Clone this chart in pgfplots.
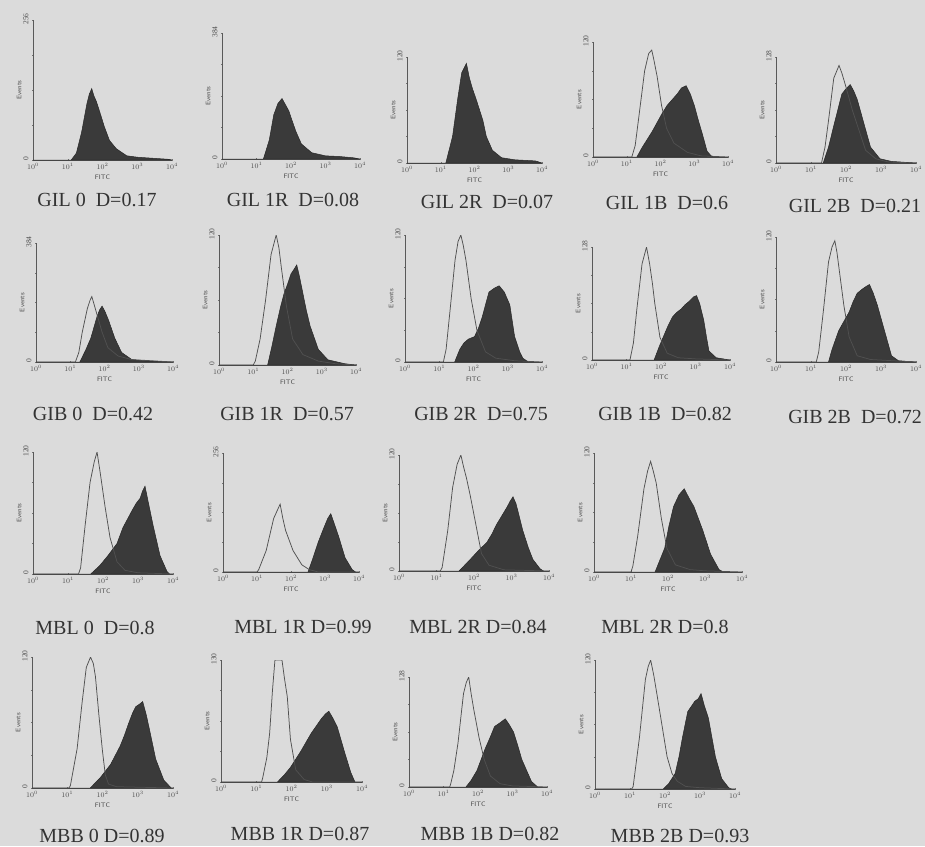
\documentclass[border=0pt]{standalone}
\usepackage{pgfplots}
\pgfplotsset{compat=1.18}
\usepackage{fontspec}
\setmainfont{Liberation Serif}
\definecolor{bgcol}{RGB}{219,219,219}
\definecolor{fillc}{RGB}{58,58,58}
\definecolor{edgec}{RGB}{40,40,40}
\definecolor{linec}{RGB}{80,80,80}
\pgfplotsset{
 fc/.style={
  scale only axis, anchor=south west,
  xmin=0, xmax=4, ymin=0, ymax=100,
  axis x line=bottom, axis y line=left,
  axis line style={-, line width=0.7pt, black!65},
  xtick={0,1,2,3,4}, xticklabels={$10^0$,$10^1$,$10^2$,$10^3$,$10^4$},
  ytick={0,100}, minor ytick={25,50,75},
  tick style={black!55, line width=0.4pt}, major tick length=2pt, minor tick length=1.5pt,
  tick label style={font=\fontsize{7.5}{8}\selectfont, text=black!70},
  xticklabel style={yshift=1pt},
  yticklabel style={rotate=90, xshift=1pt},
  xlabel={FITC}, ylabel={Events},
  label style={font=\sffamily\fontsize{6.5}{7}\selectfont, text=black!70},
  xlabel style={yshift=2pt}, ylabel style={yshift=-5pt},
 },
 filled/.style={draw=edgec, fill=fillc, line width=0.5pt},
 outl/.style={draw=linec, line width=0.75pt},
}
\newcommand{\capt}[3]{\node[inner sep=0pt, font=\fontsize{20}{22}\selectfont, text=black!80] at (#1pt,-#2pt) {#3};}
\begin{document}
\begin{tikzpicture}
\path[use as bounding box] (0,0) rectangle (925pt,-846pt);
\fill[bgcol] (0,0) rectangle (925pt,-846pt);
% ---------------- Row 1 ----------------
\begin{axis}[fc, at={(33pt,-160pt)}, width=139pt, height=140pt, yticklabels={0,256}]
\addplot[filled] coordinates {(0,0) (1.1,0) (1.25,5) (1.4,20) (1.55,40) (1.62,47) (1.69,51) (1.75,46) (1.82,42) (1.9,36) (2.05,24) (2.2,14) (2.4,8) (2.7,3) (3.0,2) (3.3,1.5) (3.6,1) (3.9,0.5) (4,0)} \closedcycle;
\end{axis}
\begin{axis}[fc, at={(222pt,-159pt)}, width=138pt, height=126pt, yticklabels={0,384}]
\addplot[filled] coordinates {(0,0) (1.2,0) (1.37,15) (1.5,35) (1.62,44) (1.74,48) (1.84,43) (1.94,38) (2.05,29) (2.14,22) (2.3,12) (2.6,5) (3.0,2.5) (3.4,2) (3.8,1) (4,0)} \closedcycle;
\end{axis}
\begin{axis}[fc, at={(407pt,-163pt)}, width=135pt, height=106pt, yticklabels={0,120}]
\addplot[filled] coordinates {(0,0) (1.15,0) (1.35,25) (1.5,60) (1.62,85) (1.76,94) (1.85,80) (1.94,70) (2.05,60) (2.15,50) (2.25,40) (2.35,25) (2.53,12) (2.8,5) (3.2,3) (3.8,2) (4,0)} \closedcycle;
\end{axis}
\begin{axis}[fc, at={(593pt,-157pt)}, width=135pt, height=115pt, yticklabels={0,120}]
\addplot[filled] coordinates {(0,0) (1.3,0) (1.45,8) (1.6,15) (1.75,22) (1.9,30) (2.05,38) (2.2,45) (2.35,50) (2.5,55) (2.62,60) (2.76,62) (2.88,55) (3.0,45) (3.12,32) (3.24,20) (3.38,5) (3.5,1) (3.6,0) (4,0)} \closedcycle;
\addplot[outl] coordinates {(0,0) (1.15,0) (1.25,10) (1.38,40) (1.53,75) (1.65,90) (1.74,93) (1.8,85) (1.9,70) (2.03,45) (2.18,25) (2.4,12) (2.8,4) (3.2,1) (4,0)};
\end{axis}
\begin{axis}[fc, at={(776pt,-163pt)}, width=140pt, height=106pt, yticklabels={0,128}]
\addplot[filled] coordinates {(0,0) (1.35,0) (1.5,15) (1.65,35) (1.78,52) (1.88,65) (2.0,70) (2.12,74) (2.22,68) (2.32,60) (2.43,47) (2.53,35) (2.7,15) (2.97,4) (3.3,1.5) (4,0)} \closedcycle;
\addplot[outl] coordinates {(0,0) (1.3,0) (1.4,15) (1.5,40) (1.65,80) (1.8,92) (1.88,85) (1.97,75) (2.08,62) (2.18,50) (2.38,30) (2.56,12) (2.85,4) (3.2,1) (4,0)};
\end{axis}
\capt{97}{200}{GIL 0~~D=0.17}
\capt{293}{200}{GIL 1R~~D=0.08}
\capt{487}{202}{GIL 2R~~D=0.07}
\capt{667}{203}{GIL 1B~~D=0.6}
\capt{855}{206}{GIL 2B~~D=0.21}
% ---------------- Row 2 ----------------
\begin{axis}[fc, at={(36pt,-362pt)}, width=137pt, height=119pt, yticklabels={0,384}]
\addplot[filled] coordinates {(0,0) (1.28,0) (1.45,10) (1.6,20) (1.7,30) (1.78,38) (1.86,44) (1.93,47) (2.02,42) (2.12,35) (2.3,20) (2.5,8) (2.8,2) (3.2,1) (4,0)} \closedcycle;
\addplot[outl] coordinates {(0,0) (1.15,0) (1.25,8) (1.35,25) (1.5,45) (1.58,52) (1.63,55) (1.7,48) (1.78,40) (1.93,25) (2.1,12) (2.4,5) (2.8,2) (4,0)};
\end{axis}
\begin{axis}[fc, at={(219pt,-365pt)}, width=137pt, height=130pt, yticklabels={0,120}]
\addplot[filled] coordinates {(0,0) (1.42,0) (1.55,15) (1.67,30) (1.8,45) (1.9,55) (2.0,62) (2.1,70) (2.2,74) (2.27,77) (2.35,68) (2.45,55) (2.55,42) (2.66,30) (2.9,12) (3.18,4) (3.67,1) (4,0)} \closedcycle;
\addplot[outl] coordinates {(0,0) (1.0,0) (1.06,3) (1.2,20) (1.36,50) (1.52,85) (1.67,100) (1.75,90) (1.82,75) (1.97,45) (2.15,20) (2.45,8) (2.9,3) (3.4,1) (4,0)};
\end{axis}
\begin{axis}[fc, at={(405pt,-362pt)}, width=137pt, height=127pt, yticklabels={0,120}]
\addplot[filled] coordinates {(0,0) (1.45,0) (1.6,10) (1.72,15) (1.85,18) (2.03,20) (2.15,27) (2.25,35) (2.35,45) (2.45,55) (2.6,58) (2.75,60) (2.9,55) (3.06,45) (3.2,20) (3.35,8) (3.44,3) (3.6,0) (4,0)} \closedcycle;
\addplot[outl] coordinates {(0,0) (1.12,0) (1.2,10) (1.35,50) (1.46,80) (1.55,95) (1.63,100) (1.7,92) (1.78,80) (1.93,50) (2.1,25) (2.35,8) (2.65,3) (3.2,1) (4,0)};
\end{axis}
\begin{axis}[fc, at={(592pt,-360pt)}, width=138pt, height=113pt, yticklabels={0,128}]
\addplot[filled] coordinates {(0,0) (1.8,0) (1.95,12) (2.06,20) (2.2,30) (2.33,38) (2.45,42) (2.58,45) (2.7,49) (2.82,52) (2.95,56) (3.03,57) (3.12,50) (3.24,35) (3.32,20) (3.39,8) (3.6,2) (4,0)} \closedcycle;
\addplot[outl] coordinates {(0,0) (1.1,0) (1.2,15) (1.3,45) (1.45,85) (1.58,100) (1.67,85) (1.75,68) (1.82,50) (1.97,20) (2.18,6) (2.5,2) (3,1) (4,0)};
\end{axis}
\begin{axis}[fc, at={(776pt,-362pt)}, width=140pt, height=125pt, yticklabels={0,120}]
\addplot[filled] coordinates {(0,0) (1.5,0) (1.6,10) (1.79,25) (1.95,33) (2.09,40) (2.2,48) (2.32,55) (2.45,58) (2.55,60) (2.67,62) (2.78,55) (2.9,45) (3.0,35) (3.1,25) (3.3,5) (3.5,1) (4,0)} \closedcycle;
\addplot[outl] coordinates {(0,0) (1.15,0) (1.22,8) (1.35,40) (1.5,80) (1.6,92) (1.68,97) (1.74,88) (1.8,75) (1.94,45) (2.09,20) (2.32,5) (2.7,2) (4,0)};
\end{axis}
\capt{93}{414}{GIB 0~~D=0.42}
\capt{287}{414}{GIB 1R~~D=0.57}
\capt{481}{414}{GIB 2R~~D=0.75}
\capt{665}{414}{GIB 1B~~D=0.82}
\capt{855}{417}{GIB 2B~~D=0.72}
% ---------------- Row 3 ----------------
\begin{axis}[fc, at={(33pt,-574pt)}, width=140pt, height=122pt, yticklabels={0,120}]
\addplot[filled] coordinates {(0,0) (1.65,0) (1.91,7) (2.14,15) (2.4,25) (2.57,38) (2.7,45) (2.83,52) (2.95,58) (3.06,62) (3.13,68) (3.2,72) (3.3,58) (3.43,40) (3.63,15) (3.83,2) (3.9,0) (4,0)} \closedcycle;
\addplot[outl] coordinates {(0,0) (1.3,0) (1.36,5) (1.49,40) (1.63,75) (1.75,92) (1.83,100) (1.91,85) (2.06,55) (2.2,30) (2.4,10) (2.63,3) (3.0,1) (4,0)};
\end{axis}
\begin{axis}[fc, at={(223pt,-572pt)}, width=136pt, height=119pt, yticklabels={0,256}]
\addplot[filled] coordinates {(0,0) (2.5,0) (2.65,12) (2.8,25) (2.95,36) (3.08,45) (3.17,49) (3.28,40) (3.4,30) (3.59,12) (3.8,2) (3.9,0) (4,0)} \closedcycle;
\addplot[outl] coordinates {(0,0) (1.0,0) (1.05,2) (1.27,18) (1.49,45) (1.6,52) (1.68,57) (1.76,45) (1.84,35) (2.06,18) (2.32,6) (2.54,2) (2.8,0) (4,0)};
\end{axis}
\begin{axis}[fc, at={(399pt,-571pt)}, width=150pt, height=116pt, yticklabels={0,120}]
\addplot[filled] coordinates {(0,0) (1.6,0) (1.75,5) (1.9,10) (2.1,17) (2.35,25) (2.48,32) (2.6,40) (2.75,48) (2.88,55) (2.96,60) (3.04,64) (3.12,58) (3.2,48) (3.3,35) (3.45,20) (3.57,10) (3.76,2) (3.85,0) (4,0)} \closedcycle;
\addplot[outl] coordinates {(0,0) (1.1,0) (1.15,3) (1.3,35) (1.43,72) (1.55,92) (1.65,100) (1.72,90) (1.8,80) (1.9,65) (2.08,35) (2.2,15) (2.4,5) (2.8,1) (4,0)};
\end{axis}
\begin{axis}[fc, at={(594pt,-572pt)}, width=148pt, height=119pt, yticklabels={0,120}]
\addplot[filled] coordinates {(0,0) (1.65,0) (1.78,10) (1.91,20) (2.02,38) (2.15,55) (2.3,65) (2.44,70) (2.57,62) (2.7,55) (2.82,45) (2.94,35) (3.15,15) (3.38,2) (3.5,0) (4,0)} \closedcycle;
\addplot[outl] coordinates {(0,0) (1.0,0) (1.05,5) (1.18,30) (1.35,70) (1.45,85) (1.53,93) (1.6,85) (1.68,75) (1.82,45) (1.97,20) (2.2,6) (2.6,2) (3.0,1) (4,0)};
\end{axis}
\capt{95}{628}{MBL 0~~D=0.8}
\capt{303}{627}{MBL 1R D=0.99}
\capt{478}{627}{MBL 2R D=0.84}
\capt{665}{627}{MBL 2R D=0.8}
% ---------------- Row 4 ----------------
\begin{axis}[fc, at={(32pt,-788pt)}, width=141pt, height=131pt, yticklabels={0,120}]
\addplot[filled] coordinates {(0,0) (1.65,0) (1.94,8) (2.23,18) (2.5,32) (2.62,40) (2.75,50) (2.85,57) (2.94,62) (3.05,64) (3.14,66) (3.24,56) (3.33,45) (3.51,22) (3.74,6) (3.95,0) (4,0)} \closedcycle;
\addplot[outl] coordinates {(0,0) (1.05,0) (1.09,2) (1.28,30) (1.42,65) (1.54,92) (1.66,100) (1.74,95) (1.8,85) (1.9,55) (2.0,28) (2.08,10) (2.17,3) (2.4,1) (4,0)};
\end{axis}
\begin{axis}[fc, at={(221pt,-782pt)}, width=141pt, height=122pt, yticklabels={0,130}]
\addplot[filled] coordinates {(0,0) (1.6,0) (1.8,6) (1.97,12) (2.26,25) (2.56,40) (2.85,52) (2.97,56) (3.06,58) (3.18,52) (3.3,45) (3.5,25) (3.68,8) (3.8,0) (4,0)} \closedcycle;
\addplot[outl] coordinates {(0,0) (1.15,0) (1.18,3) (1.3,20) (1.38,40) (1.46,75) (1.53,100) (1.73,100) (1.8,85) (1.88,70) (1.97,35) (2.12,10) (2.36,2) (2.6,0) (4,0)};
\end{axis}
\begin{axis}[fc, at={(409pt,-787pt)}, width=138pt, height=110pt, yticklabels={0,128}]
\addplot[filled] coordinates {(0,0) (1.65,0) (1.8,6) (1.97,15) (2.21,35) (2.35,45) (2.48,55) (2.62,58) (2.79,62) (2.9,57) (3.03,50) (3.15,38) (3.27,25) (3.55,5) (3.73,0) (4,0)} \closedcycle;
\addplot[outl] coordinates {(0,0) (1.18,0) (1.21,3) (1.3,15) (1.42,40) (1.58,85) (1.66,95) (1.73,100) (1.8,85) (1.88,70) (2.03,45) (2.18,25) (2.36,10) (2.64,3) (3.0,1) (4,0)};
\end{axis}
\begin{axis}[fc, at={(595pt,-789pt)}, width=140pt, height=129pt, yticklabels={0,120}]
\addplot[filled] coordinates {(0,0) (1.95,0) (2.1,4) (2.29,12) (2.4,25) (2.5,40) (2.65,60) (2.75,64) (2.85,68) (2.95,70) (3.03,74) (3.12,65) (3.24,55) (3.34,40) (3.44,25) (3.62,8) (3.82,1) (3.9,0) (4,0)} \closedcycle;
\addplot[outl] coordinates {(0,0) (1.05,0) (1.09,2) (1.27,40) (1.44,85) (1.52,95) (1.59,100) (1.68,88) (1.76,75) (1.91,50) (2.06,25) (2.2,12) (2.35,6) (2.59,2) (3.0,1) (4,0)};
\end{axis}
\capt{102}{836}{MBB 0 D=0.89}
\capt{300}{834}{MBB 1R D=0.87}
\capt{490}{834}{MBB 1B D=0.82}
\capt{680}{836}{MBB 2B D=0.93}
\end{tikzpicture}
\end{document}
